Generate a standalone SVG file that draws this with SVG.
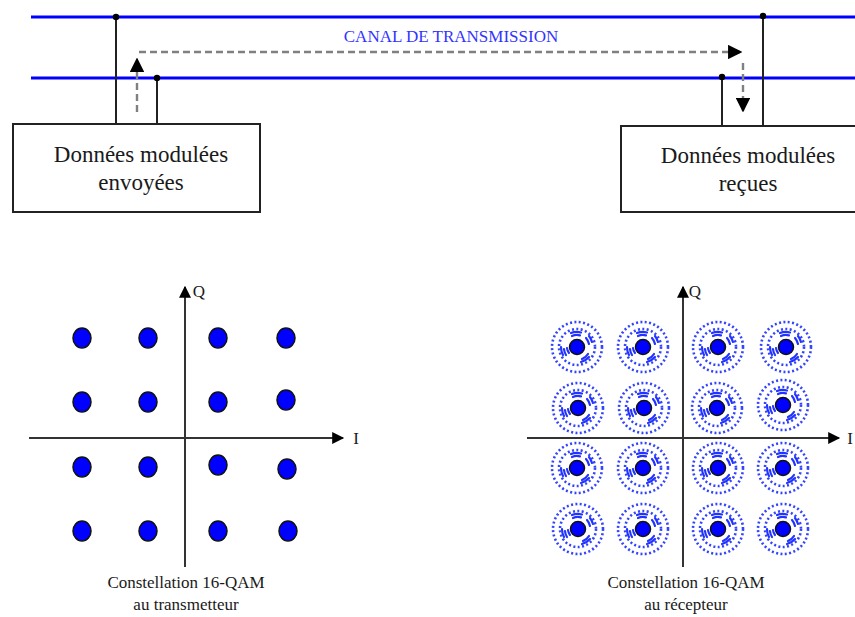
<svg xmlns="http://www.w3.org/2000/svg" xmlns:xlink="http://www.w3.org/1999/xlink" width="855" height="617" viewBox="0 0 855 617">
<style>
.chan{stroke:#0000ff;stroke-width:3;fill:none}
.wire{stroke:#222;stroke-width:2;fill:none}
.dash{stroke:#808080;stroke-width:2.4;stroke-dasharray:7 4;fill:none}
.box{fill:#fff;stroke:#222;stroke-width:2}
.lbl{font-family:"Liberation Serif",serif;font-size:23px;fill:#1a1a1a;text-anchor:middle}
.cap{font-family:"Liberation Serif",serif;font-size:17px;fill:#1a1a1a;text-anchor:middle}
.axis{stroke:#333;stroke-width:2;fill:none}
.pt{fill:#0000ff;stroke:#111;stroke-width:1.5}
.ring{fill:none;stroke:#3344ff;stroke-width:2.6;stroke-dasharray:2 2.4}
.arc{fill:none;stroke:#2233ff;stroke-width:2.2;stroke-linecap:round}
</style>
<defs>
<marker id="ah" viewBox="0 0 10 10" refX="9" refY="5" markerWidth="6" markerHeight="6" orient="auto" markerUnits="strokeWidth">
<path d="M0,0 L10,5 L0,10 Z" fill="#000"/>
</marker>
<marker id="ax" viewBox="0 0 10 10" refX="9" refY="5" markerWidth="6.5" markerHeight="6" orient="auto" markerUnits="strokeWidth">
<path d="M0,0 L10,5 L0,10 Z" fill="#000"/>
</marker>
<g id="rx">
<circle r="25" class="ring"/>
<circle r="18" class="ring" stroke-dasharray="2 3.2"/>
<path class="arc" d="M-6,-14 A15,15 0 0 1 4,-14.5 M-5,-11 A12,12 0 0 1 3,-11.6 M9,-9 A13,13 0 0 1 12,-3 M12,-11 A16,16 0 0 1 15,-5 M-13,2 A13,13 0 0 0 -11,8 M-16,0 A16,16 0 0 0 -14,8 M-10,1 A10,10 0 0 0 -8,6 M5,12 A13,13 0 0 0 11,7 M4,15 A16,16 0 0 0 12,10"/>
<circle r="7.5" class="pt"/>
</g>
</defs>

<g id="channel">
<line class="chan" x1="31" y1="17" x2="855" y2="17"/>
<line class="chan" x1="31" y1="78" x2="855" y2="78"/>
<text x="451" y="42" font-family="Liberation Serif,serif" font-size="17" fill="#3333ff" text-anchor="middle">CANAL DE TRANSMISSION</text>
</g>

<g id="connectors">
<line class="wire" x1="116" y1="17" x2="116" y2="124"/>
<circle cx="116" cy="17" r="3.2" fill="#000"/>
<line class="wire" x1="157" y1="78" x2="157" y2="124"/>
<circle cx="157" cy="78" r="3.2" fill="#000"/>
<line class="wire" x1="763" y1="16" x2="763" y2="126"/>
<circle cx="763" cy="16" r="3.2" fill="#000"/>
<line class="wire" x1="722" y1="77" x2="722" y2="126"/>
<circle cx="722" cy="77" r="3.2" fill="#000"/>
<line class="dash" x1="137" y1="112" x2="137" y2="59" marker-end="url(#ah)"/>
<line class="dash" x1="139" y1="52" x2="741" y2="52" marker-end="url(#ah)"/>
<line class="dash" x1="743" y1="63" x2="743" y2="111" marker-end="url(#ah)"/>
</g>

<g id="sent">
<rect class="box" x="13" y="124" width="247" height="88"/>
<text class="lbl" x="141" y="162">Données modulées</text>
<text class="lbl" x="141" y="190">envoyées</text>
</g>

<g id="received">
<rect class="box" x="621" y="126" width="250" height="86"/>
<text class="lbl" x="748" y="163">Données modulées</text>
<text class="lbl" x="748" y="191">reçues</text>
</g>

<g id="tx-constellation">
<line class="axis" x1="185" y1="567" x2="185" y2="287" marker-end="url(#ax)"/>
<line class="axis" x1="29" y1="438" x2="343" y2="438" marker-end="url(#ax)"/>
<text class="cap" x="199" y="297">Q</text>
<text class="cap" x="356" y="444">I</text>
<g id="tx-points">
<ellipse class="pt" cx="82" cy="338" rx="9" ry="10"/>
<ellipse class="pt" cx="148" cy="338" rx="9" ry="10"/>
<ellipse class="pt" cx="218" cy="338" rx="9" ry="10"/>
<ellipse class="pt" cx="286" cy="338" rx="9" ry="10"/>
<ellipse class="pt" cx="82" cy="402" rx="9" ry="10"/>
<ellipse class="pt" cx="148" cy="402" rx="9" ry="10"/>
<ellipse class="pt" cx="218" cy="402" rx="9" ry="10"/>
<ellipse class="pt" cx="286" cy="400" rx="9" ry="10"/>
<ellipse class="pt" cx="82" cy="467" rx="9" ry="10"/>
<ellipse class="pt" cx="148" cy="467" rx="9" ry="10"/>
<ellipse class="pt" cx="218" cy="465" rx="9" ry="10"/>
<ellipse class="pt" cx="287" cy="469" rx="9" ry="10"/>
<ellipse class="pt" cx="82" cy="531" rx="9" ry="10"/>
<ellipse class="pt" cx="148" cy="531" rx="9" ry="10"/>
<ellipse class="pt" cx="218" cy="531" rx="9" ry="10"/>
<ellipse class="pt" cx="288" cy="531" rx="9" ry="10"/>
</g>
<text class="cap" x="186" y="588">Constellation 16-QAM</text>
<text class="cap" x="186" y="610">au transmetteur</text>
</g>

<g id="rx-constellation">
<line class="axis" x1="683" y1="567" x2="683" y2="287" marker-end="url(#ax)"/>
<line class="axis" x1="527" y1="438" x2="839" y2="438" marker-end="url(#ax)"/>
<text class="cap" x="695" y="297">Q</text>
<text class="cap" x="850" y="444" fill="#c06010">I</text>
<g id="rx-points">
<use xlink:href="#rx" x="577" y="347"/>
<use xlink:href="#rx" x="643" y="347"/>
<use xlink:href="#rx" x="718" y="347"/>
<use xlink:href="#rx" x="786" y="347"/>
<use xlink:href="#rx" x="578" y="408"/>
<use xlink:href="#rx" x="644" y="408"/>
<use xlink:href="#rx" x="717" y="408"/>
<use xlink:href="#rx" x="783" y="405"/>
<use xlink:href="#rx" x="577" y="468"/>
<use xlink:href="#rx" x="643" y="468"/>
<use xlink:href="#rx" x="718" y="468"/>
<use xlink:href="#rx" x="783" y="468"/>
<use xlink:href="#rx" x="578" y="529"/>
<use xlink:href="#rx" x="643" y="529"/>
<use xlink:href="#rx" x="718" y="529"/>
<use xlink:href="#rx" x="783" y="529"/>
</g>
<text class="cap" x="686" y="588">Constellation 16-QAM</text>
<text class="cap" x="686" y="610">au récepteur</text>
</g>
</svg>
